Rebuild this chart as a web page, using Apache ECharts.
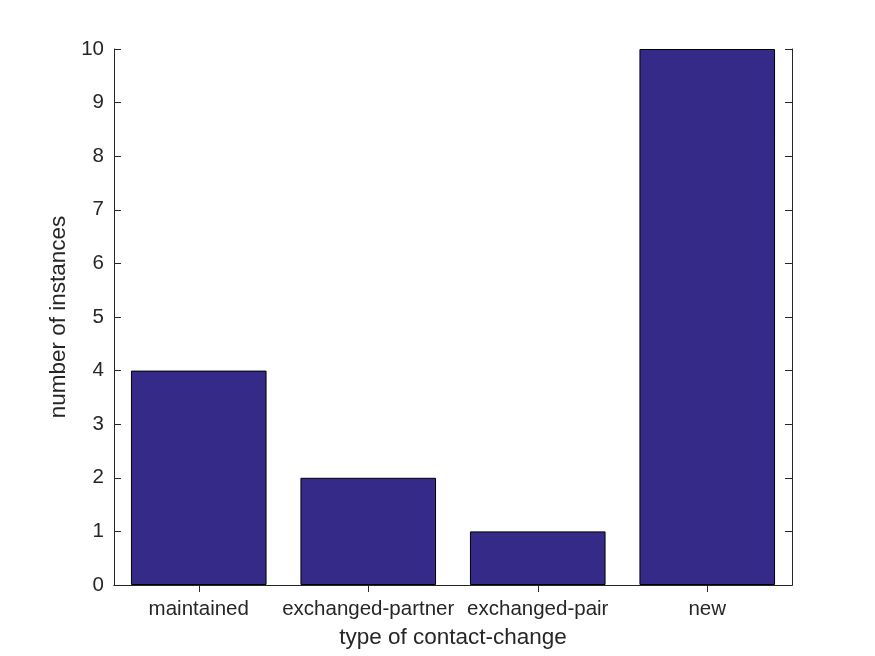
<!DOCTYPE html>
<html>
<head>
<meta charset="utf-8">
<script src="https://cdn.jsdelivr.net/npm/echarts@6/dist/echarts.min.js"></script>
<style>
  html, body { margin: 0; padding: 0; background: #ffffff; }
  #chart { width: 875px; height: 656px; }
</style>
</head>
<body>
<div id="chart"></div>
<script>
const categories = ['maintained', 'exchanged-partner', 'exchanged-pair', 'new'];
const instances = [4, 2, 1, 10];
const yTicks = { min: 0, max: 10, interval: 1 };

const ink = '#262626';
const font = 'Arial, "Liberation Sans", Helvetica, sans-serif';

const chart = echarts.init(document.getElementById('chart'));

const tickOnly = {
  axisLine: { show: true, lineStyle: { color: ink, width: 1 } },
  axisTick: { show: true, inside: true, length: 7, lineStyle: { color: ink } },
  axisLabel: { show: false },
  splitLine: { show: false }
};

chart.setOption({
  animation: false,
  backgroundColor: '#ffffff',
  grid: { left: 114, right: 83, top: 49, bottom: 71, containLabel: false, outerBoundsMode: 'none' },
  xAxis: [
    {
      type: 'category',
      data: categories,
      position: 'bottom',
      name: 'type of contact-change',
      nameLocation: 'middle',
      nameGap: 41,
      nameTextStyle: { color: ink, fontSize: 22.5, fontFamily: font },
      axisLine: { show: true, lineStyle: { color: ink, width: 1 } },
      axisTick: { show: true, inside: true, length: 7, alignWithLabel: true, lineStyle: { color: ink } },
      axisLabel: { color: ink, fontSize: 20.5, fontFamily: font, margin: 14, interval: 0 },
      splitLine: { show: false }
    },
    Object.assign({
      type: 'category',
      data: categories,
      position: 'top'
    }, tickOnly, {
      axisTick: { show: true, inside: true, length: 7, alignWithLabel: true, lineStyle: { color: ink } }
    })
  ],
  yAxis: [
    {
      type: 'value',
      min: yTicks.min,
      max: yTicks.max,
      interval: yTicks.interval,
      position: 'left',
      name: 'number of instances',
      nameLocation: 'middle',
      nameGap: 38,
      nameTextStyle: { color: ink, fontSize: 22.5, fontFamily: font },
      axisLine: { show: true, lineStyle: { color: ink, width: 1 } },
      axisTick: { show: true, inside: true, length: 7, lineStyle: { color: ink } },
      axisLabel: { color: ink, fontSize: 20.5, fontFamily: font, margin: 10 },
      splitLine: { show: false }
    },
    Object.assign({
      type: 'value',
      min: yTicks.min,
      max: yTicks.max,
      interval: yTicks.interval,
      position: 'right'
    }, tickOnly)
  ],
  series: [
    {
      type: 'bar',
      data: instances,
      barWidth: '80%',
      itemStyle: { color: '#352a87', borderColor: '#000000', borderWidth: 1 }
    }
  ]
});
</script>
</body>
</html>
